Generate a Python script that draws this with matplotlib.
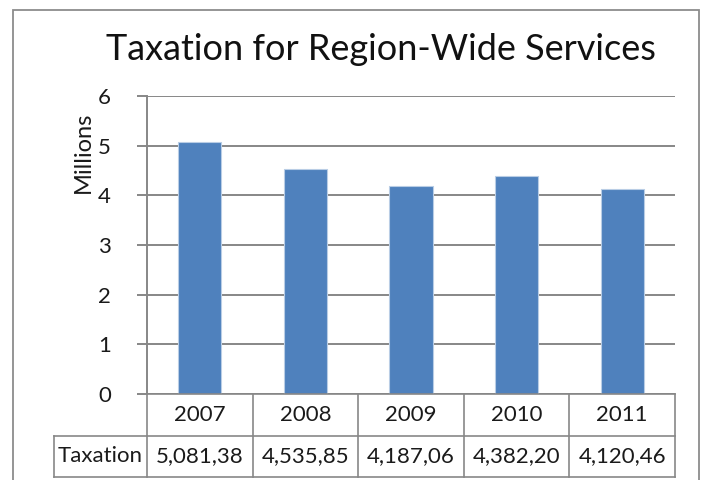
import matplotlib
matplotlib.use('Agg')
import matplotlib.pyplot as plt
import matplotlib.transforms as mtransforms
from matplotlib.patches import Rectangle

years = ['2007', '2008', '2009', '2010', '2011']
taxation = [5.08138, 4.53585, 4.18706, 4.38220, 4.12046]  # millions
table_text = ['5,081,38', '4,535,85', '4,187,06', '4,382,20', '4,120,46']
row_label = 'Taxation'
yticks = [0, 1, 2, 3, 4, 5, 6]

plt.rcParams['font.family'] = ['Lato', 'DejaVu Sans']

W, H = 704, 480
fig = plt.figure(figsize=(W / 100, H / 100), dpi=100)

# plot area in pixels
left, right, top, bottom = 147, 675, 96, 394
ax = fig.add_axes([left / W, 1 - bottom / H, (right - left) / W, (bottom - top) / H])

grid_c = '#878787'
txt_c = '#1a1a1a'
ax.bar(range(len(years)), taxation, width=0.41, color='#4F81BD',
       edgecolor='#B9CDE5', linewidth=0.8, zorder=3)
ax.set_xlim(-0.5, len(years) - 0.5)
ax.set_ylim(0, 6)
ax.set_yticks(yticks)
ax.set_xticks([])
ax.yaxis.grid(True, color=grid_c, linewidth=1.4, zorder=0)
for s in ['top', 'right', 'bottom']:
    ax.spines[s].set_visible(False)
ax.spines['left'].set_color(grid_c)
ax.spines['left'].set_linewidth(1.4)
ax.tick_params(axis='y', length=7, width=1.4, color=grid_c, pad=19,
               labelsize=16, labelcolor=txt_c)
ax.set_ylabel('Millions', fontsize=17, color=txt_c)
ax.yaxis.set_label_coords((94 - left) / (right - left), (bottom - 152) / (bottom - top))

fig.text(381 / W, 1 - 50 / H, 'Taxation for Region-Wide Services',
         ha='center', va='center', fontsize=26, color='#111111')

# data table under the axis
ph = bottom - top
pw = right - left
r1 = -(436 - bottom) / ph
r2 = -(477 - bottom) / ph
lab_x = -(left - 54) / pw
trans = mtransforms.blended_transform_factory(ax.transData, ax.transAxes)
tc = '#878787'
tlw = 1.2
for k in range(len(years) + 1):
    ax.plot([k - 0.5, k - 0.5], [0, r2], transform=trans, color=tc, lw=tlw,
            clip_on=False, zorder=4)
ax.plot([lab_x, 1], [r1, r1], transform=ax.transAxes, color=tc, lw=tlw, clip_on=False)
ax.plot([lab_x, 1], [r2, r2], transform=ax.transAxes, color=tc, lw=tlw, clip_on=False)
ax.plot([lab_x, lab_x], [r1, r2], transform=ax.transAxes, color=tc, lw=tlw, clip_on=False)
ax.plot([0, 1], [0, 0], transform=ax.transAxes, color=tc, lw=tlw, clip_on=False, zorder=4)

for i, (yr, val) in enumerate(zip(years, table_text)):
    ax.text(i, r1 / 2, yr, transform=trans, ha='center', va='center',
            fontsize=16, color=txt_c)
    ax.text(i, (r1 + r2) / 2, val, transform=trans, ha='center', va='center',
            fontsize=16, color=txt_c)
ax.text((lab_x + 0) / 2, (r1 + r2) / 2, row_label, transform=ax.transAxes,
        ha='center', va='center', fontsize=16, color=txt_c)

# outer chart border
fig.patches.append(Rectangle((13 / W, -0.1), (699 - 13) / W, 1.1 - 10 / H,
                             transform=fig.transFigure, fill=False,
                             edgecolor='#8c8c8c', linewidth=1.3))

fig.savefig('out.png', dpi=100, facecolor='white')
